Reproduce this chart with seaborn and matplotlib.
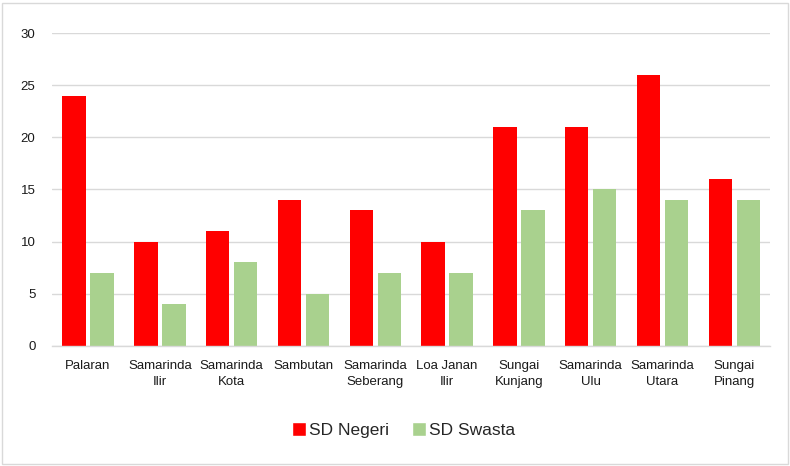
import matplotlib
matplotlib.use("Agg")
import matplotlib.pyplot as plt
import seaborn as sns
import pandas as pd
from matplotlib.patches import Rectangle
from matplotlib.lines import Line2D

categories = ["Palaran", "Samarinda\nIlir", "Samarinda\nKota", "Sambutan", "Samarinda\nSeberang",
              "Loa Janan\nIlir", "Sungai\nKunjang", "Samarinda\nUlu", "Samarinda\nUtara", "Sungai\nPinang"]
sd_negeri = [24, 10, 11, 14, 13, 10, 21, 21, 26, 16]
sd_swasta = [7, 4, 8, 5, 7, 7, 13, 15, 14, 14]
series = ["SD Negeri", "SD Swasta"]
colors = ["#FF0000", "#A9D18E"]

df = pd.DataFrame({
    "kec": categories * 2,
    "val": sd_negeri + sd_swasta,
    "jenis": [series[0]] * len(categories) + [series[1]] * len(categories),
})

sns.set_theme(style="white")
plt.rcParams["font.family"] = ["Liberation Sans", "DejaVu Sans"]

fig = plt.figure(figsize=(7.9, 4.66), dpi=100)
ax = fig.add_axes([0.066, 0.258, 0.909, 0.671])
sns.barplot(data=df, x="kec", y="val", hue="jenis", palette=colors, width=0.78, gap=0.16,
            ax=ax, legend=False, saturation=1, errorbar=None, linewidth=0, edgecolor="none")

ax.set_ylim(0, 30)
ax.set_yticks([0, 5, 10, 15, 20, 25, 30])
ax.set_xlim(-0.5, len(categories) - 0.5)
ax.yaxis.grid(True, color="#D9D9D9", linewidth=1)
ax.set_axisbelow(True)
for s in ["top", "right", "left"]:
    ax.spines[s].set_visible(False)
ax.spines["bottom"].set_color("#D9D9D9")
ax.spines["bottom"].set_linewidth(1)
ax.tick_params(axis="both", length=0, labelsize=9.5, colors="#1a1a1a")
ax.tick_params(axis="x", pad=10)
ax.tick_params(axis="y", pad=12)
for lbl in ax.get_xticklabels():
    lbl.set_linespacing(1.45)
ax.set_xlabel("")
ax.set_ylabel("")

handles = [Line2D([0], [0], marker="s", color="w", markerfacecolor=c, markersize=10, linestyle="")
           for c in colors]
fig.legend(handles, series, loc="center", bbox_to_anchor=(0.51, 0.077), ncol=2, frameon=False,
           fontsize=12.5, handletextpad=0.1, columnspacing=1.2, handlelength=1.0)

fig.patches.append(Rectangle((0.003, 0.004), 0.994, 0.99, transform=fig.transFigure,
                             fill=False, edgecolor="#D9D9D9", linewidth=1))
fig.savefig("out.png", dpi=100)
